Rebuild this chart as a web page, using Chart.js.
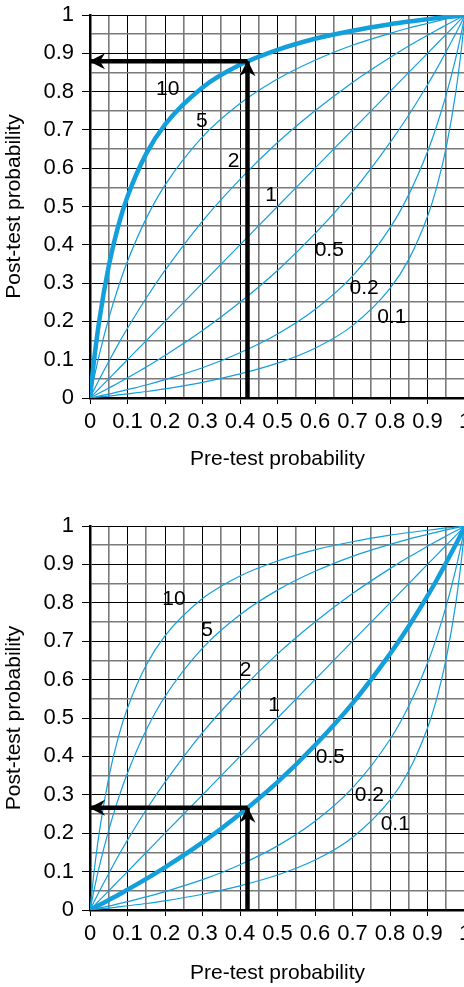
<!DOCTYPE html>
<html>
<head>
<meta charset="utf-8">
<script src="https://cdn.jsdelivr.net/npm/chart.js@4"></script>
<style>
  body { margin: 0; width: 464px; height: 987px; overflow: hidden; background: #fff; position: relative; }
  canvas { position: absolute; left: 0; }
</style>
</head>
<body>
<canvas id="topChart" width="490" height="500" style="top:0"></canvas>
<canvas id="bottomChart" width="490" height="487" style="top:500px"></canvas>
<script>
// pre-test probability (x) and post-test probability for each likelihood ratio
const preTest = [0, 0.01, 0.025, 0.05, 0.075, 0.1, 0.15, 0.2, 0.3, 0.4, 0.5, 0.6, 0.7, 0.8, 0.85, 0.9, 0.925, 0.95, 0.975, 0.99, 1];
const post10 = [0, 0.092, 0.204, 0.345, 0.448, 0.526, 0.638, 0.714, 0.811, 0.870, 0.909, 0.938, 0.959, 0.976, 0.983, 0.989, 0.992, 0.995, 0.997, 0.999, 1];
const post5 = [0, 0.048, 0.114, 0.208, 0.288, 0.357, 0.469, 0.556, 0.682, 0.769, 0.833, 0.882, 0.921, 0.952, 0.966, 0.978, 0.984, 0.990, 0.995, 0.998, 1];
const post2 = [0, 0.020, 0.049, 0.095, 0.140, 0.182, 0.261, 0.333, 0.462, 0.571, 0.667, 0.750, 0.824, 0.889, 0.919, 0.947, 0.961, 0.974, 0.987, 0.995, 1];
const post1 = [0, 0.01, 0.025, 0.05, 0.075, 0.1, 0.15, 0.2, 0.3, 0.4, 0.5, 0.6, 0.7, 0.8, 0.85, 0.9, 0.925, 0.95, 0.975, 0.99, 1];
const post05 = [0, 0.005, 0.013, 0.026, 0.039, 0.053, 0.081, 0.111, 0.176, 0.250, 0.333, 0.429, 0.538, 0.667, 0.739, 0.818, 0.860, 0.905, 0.951, 0.980, 1];
const post02 = [0, 0.002, 0.005, 0.010, 0.016, 0.022, 0.034, 0.048, 0.079, 0.118, 0.167, 0.231, 0.318, 0.444, 0.531, 0.643, 0.712, 0.792, 0.886, 0.952, 1];
const post01 = [0, 0.001, 0.003, 0.005, 0.008, 0.011, 0.017, 0.024, 0.041, 0.063, 0.091, 0.130, 0.189, 0.286, 0.362, 0.474, 0.552, 0.655, 0.796, 0.908, 1];

const ratioNames = ['10', '5', '2', '1', '0.5', '0.2', '0.1'];

// where the curve names sit (data units)
const topNoteX = [0.207, 0.298, 0.383, 0.483, 0.638, 0.731, 0.805];
const topNoteY = [0.805, 0.722, 0.617, 0.530, 0.386, 0.286, 0.210];
const bottomNoteX = [0.224, 0.312, 0.415, 0.491, 0.641, 0.745, 0.814];
const bottomNoteY = [0.809, 0.729, 0.625, 0.533, 0.397, 0.298, 0.223];

// worked example: pre-test 0.42
const examplePre = 0.42;
const topPost = 0.879;
const bottomPost = 0.266;

const BLUE = '#129fdb';
const FONT = '"Liberation Sans", Arial, sans-serif';
Chart.defaults.font.family = FONT;
Chart.defaults.color = '#000';

const curves = [post10, post5, post2, post1, post05, post02, post01];

function isMajor(v) {
  return Math.abs(v * 10 - Math.round(v * 10)) < 1e-6;
}

function tickLabel(v) {
  return isMajor(v) ? String(Math.round(v * 10) / 10) : '';
}

function gridFor(len) {
  return {
    color: c => (c.tick && isMajor(c.tick.value)) ? '#000' : '#7a7a7a',
    lineWidth: c => (c.tick && isMajor(c.tick.value)) ? 1 : 1.6,
    tickColor: c => (c.tick && isMajor(c.tick.value)) ? '#000' : 'rgba(0,0,0,0)',
    tickWidth: 1,
    tickLength: len
  };
}

function notesPlugin(xs, ys) {
  return {
    id: 'notes',
    afterDatasetsDraw(chart) {
      const { ctx, scales: { x, y } } = chart;
      ctx.save();
      // arrow heads at the end of the arrow datasets
      chart.data.datasets.forEach((ds, i) => {
        if (!ds.arrow) return;
        const pts = chart.getDatasetMeta(i).data;
        const a = pts[0], b = pts[pts.length - 1];
        const ang = Math.atan2(b.y - a.y, b.x - a.x);
        ctx.save();
        ctx.translate(b.x, b.y);
        ctx.rotate(ang);
        ctx.beginPath();
        ctx.moveTo(1, 0);
        ctx.lineTo(-15, -8);
        ctx.lineTo(-10, 0);
        ctx.lineTo(-15, 8);
        ctx.closePath();
        ctx.fillStyle = '#000';
        ctx.fill();
        ctx.restore();
      });
      ctx.font = '21px ' + FONT;
      ctx.fillStyle = '#000';
      ctx.textAlign = 'center';
      ctx.textBaseline = 'middle';
      ratioNames.forEach((n, i) => {
        ctx.fillText(n, x.getPixelForValue(xs[i]), y.getPixelForValue(ys[i]));
      });
      ctx.restore();
    }
  };
}

function makeChart(id, highlight, post, xs, ys, lay) {
  const datasets = [
    { data: [{ x: examplePre, y: post }, { x: 0, y: post }], arrow: true, borderColor: '#000', borderWidth: 4.5 },
    { data: [{ x: examplePre, y: 0 }, { x: examplePre, y: post }], arrow: true, borderColor: '#000', borderWidth: 4.5 }
  ];
  const order = [highlight].concat(curves.map((c, i) => i).filter(i => i !== highlight));
  order.forEach(i => {
    datasets.push({
      data: preTest.map((p, k) => ({ x: p, y: curves[i][k] })),
      borderColor: BLUE,
      borderWidth: i === highlight ? 4.5 : 1.2,
      cubicInterpolationMode: 'monotone'
    });
  });

  return new Chart(document.getElementById(id), {
    type: 'line',
    data: { datasets },
    options: {
      responsive: false,
      animation: false,
      layout: { padding: { top: lay.padTop, right: 25, bottom: 0, left: 0 } },
      elements: { point: { radius: 0 } },
      plugins: { legend: { display: false }, tooltip: { enabled: false } },
      scales: {
        x: {
          type: 'linear', min: 0, max: 1,
          afterFit: s => { s.height = lay.xHeight; },
          ticks: { stepSize: 0.05, autoSkip: false, maxRotation: 0, minRotation: 0, padding: 5, font: { size: 22 }, callback: tickLabel },
          grid: gridFor(6),
          border: { color: '#000', width: 2.5 },
          title: { display: true, text: 'Pre-test probability', font: { size: 21 }, padding: { top: 0, bottom: lay.titlePad } }
        },
        y: {
          type: 'linear', min: 0, max: 1,
          afterFit: s => { s.width = 90; s.paddingTop = 0; s.paddingBottom = 0; },
          ticks: { stepSize: 0.05, autoSkip: false, padding: 8, font: { size: 22 }, callback: tickLabel },
          grid: gridFor(8),
          border: { color: '#000', width: 2.5 },
          title: { display: true, text: 'Post-test probability', font: { size: 21 }, padding: { top: 2, bottom: 0 } }
        }
      }
    },
    plugins: [notesPlugin(xs, ys)]
  });
}

makeChart('topChart', 0, topPost, topNoteX, topNoteY, { padTop: 15, xHeight: 102, titlePad: 28 });
makeChart('bottomChart', 4, bottomPost, bottomNoteX, bottomNoteY, { padTop: 26, xHeight: 77, titlePad: 1.4 });
</script>
</body>
</html>
